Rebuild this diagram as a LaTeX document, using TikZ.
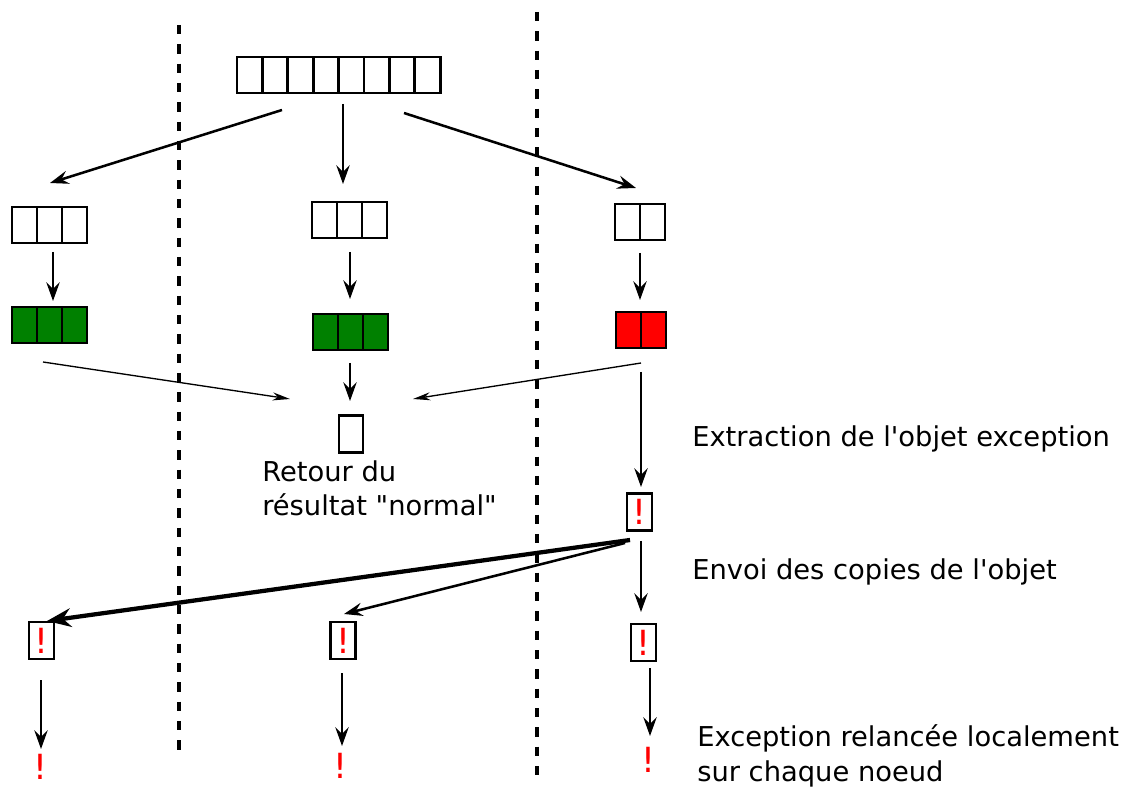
\documentclass[tikz,border=0pt]{standalone}
\usepackage{fontspec}
\setmainfont{DejaVu Sans}
\usetikzlibrary{arrows.meta}
\definecolor{okgreen}{RGB}{0,128,0}
\definecolor{errred}{RGB}{255,0,0}
\tikzset{
  cellbox/.style={draw=black, line width=2.2pt},
  sep/.style={line width=2.4pt, dash pattern=on 7pt off 7.5pt},
  flow/.style={line width=1.9pt, -{Stealth[length=14pt, width=10pt, inset=5pt]}},
  thinflow/.style={line width=1pt, -{Stealth[length=13pt, width=6pt, inset=4pt]}},
  boldflow/.style={line width=3.2pt, -{Stealth[length=18pt, width=14pt, inset=6pt]}},
  excbox/.style={draw=black, line width=2.1pt, minimum width=25*0.75pt, minimum height=37*0.75pt,
    inner sep=0pt, text=errred, font=\fontsize{26}{26}\selectfont},
  bang/.style={text=errred, inner sep=0pt, font=\fontsize{26}{26}\selectfont},
  note/.style={anchor=base west, inner sep=0pt, font=\fontsize{20.5}{26}\selectfont},
}
\begin{document}
\begin{tikzpicture}[x=0.75pt, y=-0.75pt]
\useasboundingbox (0,0) rectangle (1132,787);

% node separators
\draw[sep] (179,25) -- (179,757);
\draw[sep] (537,12) -- (537,778);

% input array
\foreach \i in {0,...,7}
  \draw[cellbox] ({237+25.4*\i},57) rectangle ++(25.4,36);

% split parts
\foreach \i in {0,1,2} {
  \draw[cellbox] ({12+25*\i},207) rectangle ++(25,36);
  \draw[cellbox] ({312+25*\i},202) rectangle ++(25,36);
  \draw[cellbox, fill=okgreen] ({12+25*\i},307) rectangle ++(25,36);
  \draw[cellbox, fill=okgreen] ({313+25*\i},314) rectangle ++(25,36);
}
\foreach \i in {0,1} {
  \draw[cellbox] ({615+25*\i},204) rectangle ++(25,36);
  \draw[cellbox, fill=errred] ({616+25*\i},312) rectangle ++(25,36);
}

% result slot
\node[draw, line width=1.8pt, minimum width=24*0.75pt, minimum height=37*0.75pt, inner sep=0pt] (res) at (351,434) {};
\node[note, align=left] (restxt) at (262,516) {Retour du\\résultat \textquotedbl normal\textquotedbl};

% connector end points
\coordinate (sA) at (282,110);  \coordinate (eA) at (50,183);
\coordinate (sB) at (343,104);  \coordinate (eB) at (343,184);
\coordinate (sC) at (404,113);  \coordinate (eC) at (636,188);
\coordinate (dA1) at (53,252);  \coordinate (dA2) at (53,301);
\coordinate (dB1) at (350,252); \coordinate (dB2) at (350,299);
\coordinate (dC1) at (640,253); \coordinate (dC2) at (640,300);
\coordinate (gA) at (43,362);   \coordinate (gAe) at (290,399);
\coordinate (gB) at (350,363);  \coordinate (gBe) at (350,401);
\coordinate (gC) at (641,363);  \coordinate (gCe) at (413,399);
\coordinate (rC) at (641,372);  \coordinate (rCe) at (641,487);

\draw[flow] (sA) -- (eA);
\draw[flow] (sB) -- (eB);
\draw[flow] (sC) -- (eC);
\draw[flow] (dA1) -- (dA2);
\draw[flow] (dB1) -- (dB2);
\draw[flow] (dC1) -- (dC2);
\draw[thinflow] (gA) -- (gAe);
\draw[flow] (gB) -- (gBe);
\draw[thinflow] (gC) -- (gCe);
\draw[flow] (rC) -- (rCe);

% exception object and its copies
\node[excbox] (exc) at (639.5,512) {!};
\node[excbox] (cpA) at (41.5,640.5) {!};
\node[excbox] (cpB) at (343,640.5) {!};
\node[excbox] (cpC) at (643.5,642.5) {!};

\coordinate (o1) at (630,540);  \coordinate (o1e) at (47,621);
\coordinate (o2) at (625,543);  \coordinate (o2e) at (344,614);
\coordinate (o3) at (641,541);  \coordinate (o3e) at (641,612);
\draw[boldflow] (o1) -- (o1e);
\draw[flow] (o2) -- (o2e);
\draw[flow] (o3) -- (o3e);

% local rethrow
\node[bang] (bA) at (40,767) {!};
\node[bang] (bB) at (340,766) {!};
\node[bang] (bC) at (648,760) {!};
\coordinate (tA) at (41,680);  \coordinate (tAe) at (41,749);
\coordinate (tB) at (342,673); \coordinate (tBe) at (342,746);
\coordinate (tC) at (650,668); \coordinate (tCe) at (650,736);
\draw[flow] (tA) -- (tAe);
\draw[flow] (tB) -- (tBe);
\draw[flow] (tC) -- (tCe);

% step labels
\node[note] (l1) at (692,447) {Extraction de l\textquotesingle objet exception};
\node[note] (l2) at (692,580) {Envoi des copies de l\textquotesingle objet};
\node[note, align=left] (l3) at (697,781) {Exception relancée localement\\sur chaque noeud};
\end{tikzpicture}
\end{document}
